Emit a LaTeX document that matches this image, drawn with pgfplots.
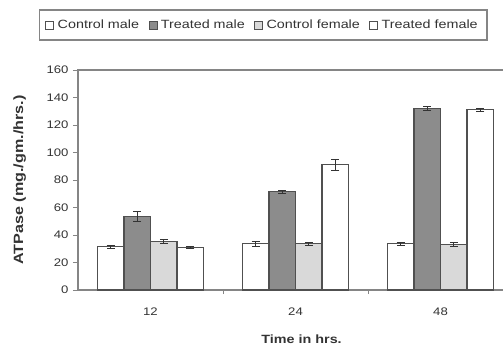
\documentclass[border=0pt]{standalone}
\usepackage{pgfplots}
\pgfplotsset{compat=1.18}
\usepackage{pgfplotstable}
\usepackage{fontspec}
\setmainfont{Liberation Sans}[FakeStretch=1.2]
\definecolor{edge}{HTML}{505050}
\definecolor{tmfill}{HTML}{8C8C8C}
\definecolor{cffill}{HTML}{D9D9D9}
\definecolor{axcol}{HTML}{858585}
\definecolor{txt}{HTML}{333333}

\pgfplotstableread{
x  cm   cme  tm    tme  cf   cfe  tf   tfe
0  31.5 1    53.3  3.5  35   1.5  31   1
1  33.5 1.5  71.5  1    33.5 1    91   4
2  33.5 1    132   1.5  33   1.5  131  1
}\datatable

\begin{document}
\begin{tikzpicture}
\path[use as bounding box] (-78bp,-57bp) rectangle (425bp,290bp);
\begin{axis}[
  at={(0,0)}, anchor=south west,
  x=145bp, y=1.375bp,
  xmin=-0.5, xmax=2.5,
  ymin=0, ymax=160,
  axis line style={axcol, line width=1.2bp},
  ybar, bar width=0.183,
  xtick={0,1,2}, xticklabels={12,24,48},
  minor xtick={0.5,1.5},
  major x tick style={draw=none},
  minor x tick style={axcol, line width=1bp},
  minor tick length=4bp,
  ytick={0,20,...,160},
  y tick style={axcol, line width=1bp},
  major tick length=5bp,
  tick align=outside,
  xtick pos=bottom, ytick pos=left,
  /pgf/number format/assume math mode=true,
  tick label style={font=\fontsize{11}{13}\selectfont, text=txt},
  yticklabel style={xshift=-1bp},
  xticklabel style={yshift=-9bp},
  xlabel={\textbf{Time in hrs.}},
  ylabel={\textbf{ATPase (mg./gm./hrs.)}},
  xlabel style={font=\fontsize{12}{14}\selectfont, text=txt, at={(axis description cs:0.514,-0.225)}, anchor=center},
  ylabel style={font=\fontsize{13.5}{15}\selectfont, text=txt, at={(axis description cs:-0.134,0.5)}, anchor=center},
  legend columns=4,
  legend image code/.code={\draw[#1, line width=0.8bp] (0bp,-4bp) rectangle (8bp,4bp);},
  legend style={at={(axis description cs:0.426,1.2045)}, anchor=center,
    draw=axcol, line width=1.4bp, inner xsep=6bp, inner ysep=9bp,
    font=\fontsize{12}{14}\selectfont, text=txt,
    nodes={inner xsep=3.5bp, inner ysep=1bp},
    /tikz/every even column/.append style={column sep=6bp}},
  error bars/error bar style={black!80, line width=1bp},
  error bars/error mark options={rotate=90, mark size=4bp, line width=1bp},
]
\addplot+[bar shift=-0.2745, fill=white, draw=edge, line width=1.1bp,
  error bars/.cd, y dir=both, y explicit]
  table[x=x, y=cm, y error=cme] {\datatable};
\addlegendentry{Control male}
\addplot+[bar shift=-0.0915, fill=tmfill, draw=edge, line width=1.1bp,
  error bars/.cd, y dir=both, y explicit]
  table[x=x, y=tm, y error=tme] {\datatable};
\addlegendentry{Treated male}
\addplot+[bar shift=0.0915, fill=cffill, draw=edge, line width=1.1bp,
  error bars/.cd, y dir=both, y explicit]
  table[x=x, y=cf, y error=cfe] {\datatable};
\addlegendentry{Control female}
\addplot+[bar shift=0.2745, fill=white, draw=edge, line width=1.1bp,
  error bars/.cd, y dir=both, y explicit]
  table[x=x, y=tf, y error=tfe] {\datatable};
\addlegendentry{Treated female}
\end{axis}
\end{tikzpicture}
\end{document}
